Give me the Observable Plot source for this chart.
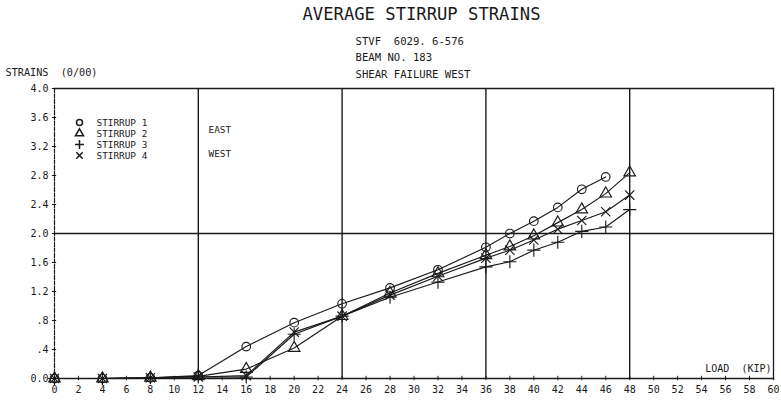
<!DOCTYPE html>
<html>
<head>
<meta charset="utf-8">
<script src="https://cdn.jsdelivr.net/npm/d3@7"></script>
<script src="https://cdn.jsdelivr.net/npm/@observablehq/plot@0.6"></script>
<style>
  html, body { margin: 0; padding: 0; background: #fff; }
  #chart svg { display: block; }
</style>
</head>
<body>
<div id="chart"></div>
<script>
// Average stirrup strains vs. applied load, beam 183
const loads = [0, 4, 8, 12, 16, 20, 24, 28, 32, 36, 38, 40, 42, 44, 46, 48];
const stirrup1 = [0, 0, 0.01, 0.04, 0.44, 0.77, 1.03, 1.25, 1.50, 1.81, 2.00, 2.17, 2.36, 2.61, 2.78];
const stirrup2 = [0, 0, 0.01, 0.03, 0.13, 0.42, 0.86, 1.18, 1.45, 1.70, 1.82, 1.97, 2.15, 2.33, 2.55, 2.84];
const stirrup3 = [0, 0, 0.01, 0.02, 0.02, 0.61, 0.86, 1.12, 1.33, 1.54, 1.61, 1.77, 1.88, 2.03, 2.09, 2.33];
const stirrup4 = [0, 0, 0.01, 0.02, 0.04, 0.64, 0.86, 1.15, 1.41, 1.66, 1.77, 1.91, 2.06, 2.18, 2.30, 2.53];

const seriesNames = ["STIRRUP 1", "STIRRUP 2", "STIRRUP 3", "STIRRUP 4"];
const seriesSymbols = ["circle", "triangle", "plus", "times"];
const xTicks = d3.range(0, 61, 2);
const yTicks = [0, 0.4, 0.8, 1.2, 1.6, 2.0, 2.4, 2.8, 3.2, 3.6, 4.0];
const yTickLabels = ["0.0", ".4", ".8", "1.2", "1.6", "2.0", "2.4", "2.8", "3.2", "3.6", "4.0"];
const xGrid = [12, 24, 36, 48];
const yGrid = [2.0];

const title = "AVERAGE STIRRUP STRAINS";
const subtitle = ["STVF  6029. 6-576", "BEAM NO. 183", "SHEAR FAILURE WEST"];
const yTitle = "STRAINS  (0/00)";
const xTitle = "LOAD  (KIP)";
const sideNotes = ["EAST", "WEST"];

const rows = [stirrup1, stirrup2, stirrup3, stirrup4].flatMap((vals, i) =>
  vals.map((v, j) => ({load: loads[j], strain: v, stirrup: seriesNames[i]}))
);

const ink = "#1a1a1a";
const mono = "DejaVu Sans Mono, monospace";

// a single line of text pinned to the top-left corner of the frame
const note = (str, dx, dy, fontSize, extra = {}) =>
  Plot.text([str], {text: (d) => d, frameAnchor: "top-left", dx, dy,
    textAnchor: "start", lineAnchor: "middle", fontSize, fill: ink, ...extra});

const chart = Plot.plot({
  width: 781,
  height: 401,
  marginLeft: 54,
  marginRight: 8,
  marginTop: 88,
  marginBottom: 23,
  style: {fontFamily: mono, color: ink, background: "#fff"},
  x: {domain: [0, 60]},
  y: {domain: [0, 4]},
  symbol: {domain: seriesNames, range: seriesSymbols},
  marks: [
    // grid lines
    Plot.ruleX(xGrid, {stroke: ink, strokeWidth: 1.4}),
    Plot.ruleY(yGrid, {stroke: ink, strokeWidth: 1.4}),
    // frame: solid top/right/bottom, dashed left axis
    Plot.frame({anchor: "top", stroke: ink, strokeWidth: 1.3}),
    Plot.frame({anchor: "right", stroke: ink, strokeWidth: 1.3}),
    Plot.frame({anchor: "bottom", stroke: ink, strokeWidth: 1.5}),
    Plot.frame({anchor: "left", stroke: ink, strokeWidth: 1.2, strokeDasharray: "4,1.5"}),
    // small cross ticks on the axes
    Plot.ruleX(xTicks, {y1: -0.03, y2: 0.03, stroke: ink, strokeWidth: 1}),
    Plot.ruleY(yTicks, {x1: -0.18, x2: 0.18, stroke: ink, strokeWidth: 1}),
    Plot.axisX({ticks: xTicks, tickSize: 0, tickPadding: 7, fontSize: 10, label: null}),
    Plot.axisY({ticks: yTicks, tickSize: 0, tickPadding: 6, fontSize: 10, label: null,
      tickFormat: (d) => yTickLabels[yTicks.indexOf(d)]}),
    // series
    Plot.line(rows, {x: "load", y: "strain", z: "stirrup", stroke: ink, strokeWidth: 1.15}),
    Plot.dot(rows, {x: "load", y: "strain", symbol: "stirrup", stroke: ink, fill: "none", r: 4.3, strokeWidth: 1.15}),
    // legend
    ...seriesNames.flatMap((name, i) => [
      Plot.dot([name], {symbol: (d) => d, frameAnchor: "top-left", dx: 25, dy: 34 + 11 * i,
        stroke: ink, fill: "none", r: 3}),
      note(name, 42, 34 + 11 * i, 9.4)
    ]),
    ...sideNotes.map((s, i) => note(s, 154, 41 + 24.5 * i, 9.4)),
    // titles
    note(title, 248, -74.5, 17.2),
    ...subtitle.map((s, i) => note(s, 301, -47 + 16.3 * i, 10.6)),
    note(yTitle, -49, -15.5, 10.2),
    Plot.text([xTitle], {text: (d) => d, frameAnchor: "bottom-right", dx: -2, dy: -9.5,
      textAnchor: "end", lineAnchor: "middle", fontSize: 10, fill: ink})
  ]
});

document.getElementById("chart").append(chart);
</script>
</body>
</html>
